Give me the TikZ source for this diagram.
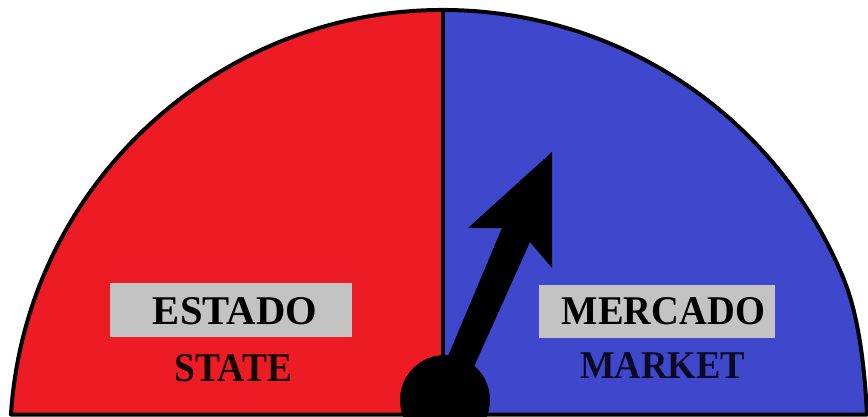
\documentclass[tikz,border=0pt]{standalone}
\usepackage{fontspec}
\setmainfont{Liberation Serif}
\usepackage{graphicx}
\definecolor{gred}{HTML}{ED1C24}
\definecolor{gblue}{HTML}{3F48CC}
\definecolor{ggray}{HTML}{C3C3C3}
\definecolor{txtred}{HTML}{140303}
\definecolor{txtblue}{HTML}{0A0A24}
\tikzset{
  graybox/.style={fill=ggray, inner sep=0pt, draw=none},
  label text/.style={inner sep=0pt, text=black},
  outline/.style={draw=black, line width=4pt, line join=round}
}
\begin{document}
\begin{tikzpicture}[x=1pt,y=1pt]
\useasboundingbox (0,0) rectangle (868,416);
\coordinate (bl) at (10.94,1.5);
\coordinate (top) at (443,406);
\coordinate (bc) at (443,1.5);
\coordinate (br) at (867,1.5);
% halves
\fill[gred] (bl) arc[start angle=176.23, end angle=90, radius=433] -- (bc) -- cycle;
\fill[gblue] (top) arc[start angle=90, end angle=22.44, radius=433]
   .. controls (860.4,96.7) and (865,40) .. (br) -- (bc) -- cycle;
% divider
\draw[line width=4pt] (bc) -- (top);
% outline
\draw[outline] (bl) arc[start angle=176.23, end angle=22.44, radius=433]
   .. controls (860.4,96.7) and (865,40) .. (br) -- cycle;
% boxes
\node[graybox, minimum width=242pt, minimum height=54pt] (estadobox) at (231,106) {};
\node[graybox, minimum width=236pt, minimum height=53pt] (mercadobox) at (657,104.5) {};
\node[label text] (estado) at (235,104.5) {\resizebox{164pt}{27pt}{\bfseries ESTADO}};
\node[label text] (mercado) at (663.5,104.5) {\resizebox{203pt}{27pt}{\bfseries MERCADO}};
\node[label text, text=txtred] (state) at (233.5,47.5) {\resizebox{117pt}{27pt}{\bfseries STATE}};
\node[label text, text=txtblue] (market) at (662.5,51) {\resizebox{165pt}{26pt}{\bfseries MARKET}};
% needle
\fill[black] (552,264) -- (468,188) -- (502,188) -- (438,36) -- (468,36) -- (530,174) -- (552,148) -- cycle;
\node[circle, fill=black, minimum size=90pt, inner sep=0pt] (pivot) at (445,16) {};
\draw[line width=3.5pt] (bl) -- (br);
\end{tikzpicture}
\end{document}
